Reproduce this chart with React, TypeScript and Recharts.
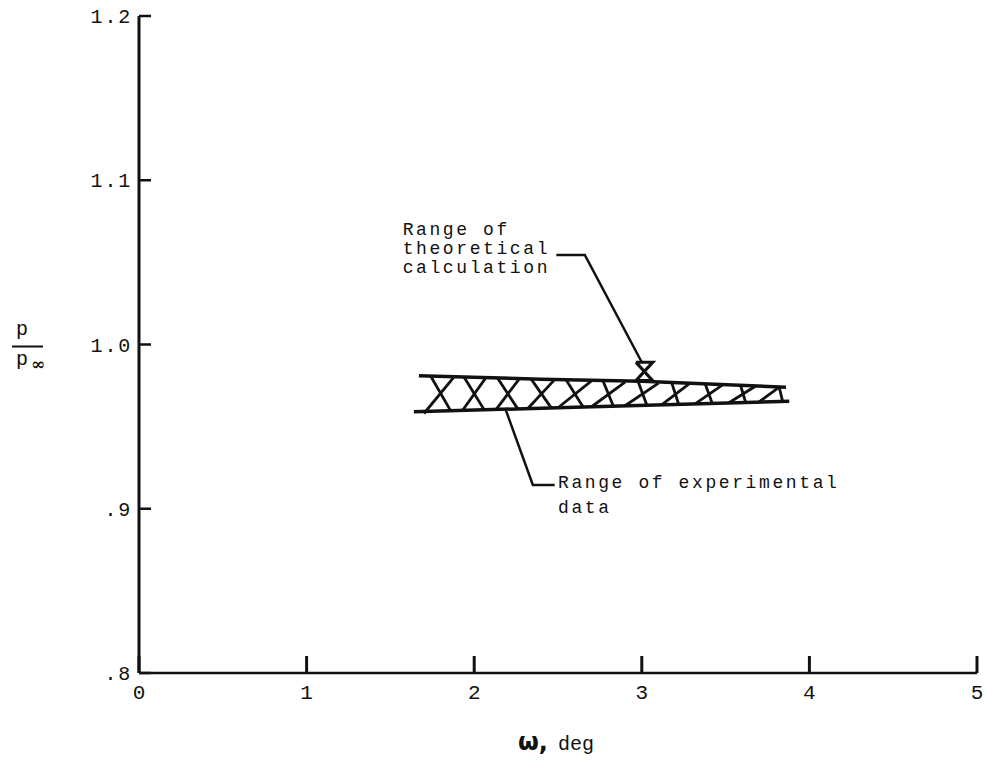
import { LineChart, Line, XAxis, YAxis, ReferenceDot } from "recharts";

const xTicks = [0, 1, 2, 3, 4, 5];
const yTicks = [0.8, 0.9, 1.0, 1.1, 1.2];
const yTickLabels: Record<string, string> = { "0.8": ".8", "0.9": ".9", "1": "1.0", "1.1": "1.1", "1.2": "1.2" };

// edges of the experimental band
const upperEdge = [
  { w: 1.67, p: 0.981 },
  { w: 2.4, p: 0.9789 },
  { w: 3.0, p: 0.9776 },
  { w: 3.86, p: 0.974 },
];
const lowerEdge = [
  { w: 1.64, p: 0.959 },
  { w: 2.6, p: 0.9618 },
  { w: 3.88, p: 0.9655 },
];

// hatching strokes [w1, p1, w2, p2]
const hatchBack = [
  [1.74, 0.9808, 1.86, 0.9596],
  [1.94, 0.9801, 2.06, 0.9602],
  [2.14, 0.9795, 2.26, 0.9608],
  [2.34, 0.9789, 2.46, 0.9614],
  [2.55, 0.9782, 2.65, 0.9619],
  [2.77, 0.9775, 2.83, 0.9625],
  [2.98, 0.9768, 3.03, 0.9631],
  [3.18, 0.9762, 3.22, 0.9636],
  [3.38, 0.9755, 3.42, 0.9642],
  [3.59, 0.9749, 3.62, 0.9647],
  [3.82, 0.974, 3.84, 0.9654],
];
const hatchFwd = [
  [1.7, 0.958, 1.88, 0.9803],
  [1.93, 0.9598, 2.07, 0.9798],
  [2.13, 0.9604, 2.27, 0.9792],
  [2.32, 0.961, 2.48, 0.9786],
  [2.5, 0.9615, 2.7, 0.9778],
  [2.7, 0.9621, 2.9, 0.9771],
  [2.9, 0.9627, 3.1, 0.9765],
  [3.12, 0.9634, 3.28, 0.9759],
  [3.32, 0.964, 3.48, 0.9753],
  [3.52, 0.9645, 3.68, 0.9747],
  [3.7, 0.965, 3.82, 0.9741],
];

// theoretical range marker (hourglass at w = 3)
const theoryMark = [
  { w: 2.965, p: 0.9892 },
  { w: 3.065, p: 0.9892 },
  { w: 2.965, p: 0.978 },
  { w: 3.065, p: 0.978 },
  { w: 2.965, p: 0.9892 },
];

const theoryLeader = [
  { w: 2.49, p: 1.0545 },
  { w: 2.66, p: 1.0545 },
  { w: 3.0, p: 0.9892 },
];
const expLeader = [
  { w: 2.19, p: 0.9597 },
  { w: 2.35, p: 0.9145 },
  { w: 2.48, p: 0.9145 },
];

const theoryText = ["Range of", "theoretical", "calculation"];
const expText = ["Range of experimental", "data"];

const FONT = "'Liberation Mono', 'DejaVu Sans Mono', monospace";
const INK = "#111";

const seg = (s: number[]) => [
  { w: s[0], p: s[1] },
  { w: s[2], p: s[3] },
];

const textBlock = (lines: string[], gap: number) => (props: any) => (
  <text x={props.cx} y={props.cy} fontFamily={FONT} fontSize={18} letterSpacing={2.6} fill={INK} dominantBaseline="central">
    {lines.map((t, i) => (
      <tspan key={i} x={props.cx} dy={i === 0 ? 0 : gap}>
        {t}
      </tspan>
    ))}
  </text>
);

const YLabel = (props: any) => {
  const vb = props.viewBox;
  const x = vb.x + 12;
  const y = vb.y + vb.height / 2;
  return (
    <g fontFamily={FONT} fill={INK}>
      <text x={x + 4} y={y - 10} fontSize={20}>p</text>
      <line x1={x} x2={x + 31} y1={y + 2} y2={y + 2} stroke={INK} strokeWidth={2} />
      <text x={x + 4} y={y + 20} fontSize={20}>p</text>
      <text x={x + 19} y={y + 25} fontSize={17} fontWeight="bold" fontFamily="'DejaVu Serif', serif">∞</text>
    </g>
  );
};

const XLabel = (props: any) => {
  const vb = props.viewBox;
  const cx = vb.x + vb.width / 2;
  return (
    <text x={cx - 40} y={vb.y + 77} fill={INK}>
      <tspan fontFamily="'DejaVu Sans', sans-serif" fontWeight="bold" fontSize={24}>ω,</tspan>
      <tspan fontFamily={FONT} fontSize={20} dx={10}>deg</tspan>
    </text>
  );
};

export default function App() {
  return (
    <div style={{ width: 987, height: 760, background: "#fff" }}>
      <style>{`body{margin:0}`}</style>
      <LineChart width={987} height={760} margin={{ top: 16, right: 10, left: 0, bottom: 0 }}>
        <XAxis
          dataKey="w"
          type="number"
          domain={[0, 5]}
          ticks={xTicks}
          height={87}
          tickSize={-17}
          tickMargin={28}
          axisLine={{ stroke: INK, strokeWidth: 2.5 }}
          tickLine={{ stroke: INK, strokeWidth: 3 }}
          tick={{ fill: INK, fontFamily: FONT, fontSize: 21 }}
          label={XLabel}
        />
        <YAxis
          type="number"
          domain={[0.8, 1.2]}
          ticks={yTicks}
          width={139}
          tickSize={-12}
          tickMargin={19}
          axisLine={{ stroke: INK, strokeWidth: 3 }}
          tickLine={{ stroke: INK, strokeWidth: 2.5 }}
          tick={{ fill: INK, fontFamily: FONT, fontSize: 20, letterSpacing: 1.8 }}
          tickFormatter={(v: number) => yTickLabels[String(v)] ?? String(v)}
          label={YLabel}
        />
        <Line data={upperEdge} dataKey="p" stroke={INK} strokeWidth={3.5} dot={false} isAnimationActive={false} />
        <Line data={lowerEdge} dataKey="p" stroke={INK} strokeWidth={3.5} dot={false} isAnimationActive={false} />
        {hatchBack.map((s, i) => (
          <Line key={"b" + i} data={seg(s)} dataKey="p" stroke={INK} strokeWidth={2.8} dot={false} isAnimationActive={false} />
        ))}
        {hatchFwd.map((s, i) => (
          <Line key={"f" + i} data={seg(s)} dataKey="p" stroke={INK} strokeWidth={2.8} dot={false} isAnimationActive={false} />
        ))}
        <Line data={theoryMark} dataKey="p" stroke={INK} strokeWidth={3.2} dot={false} isAnimationActive={false} />
        <Line data={theoryLeader} dataKey="p" stroke={INK} strokeWidth={2.5} dot={false} isAnimationActive={false} />
        <Line data={expLeader} dataKey="p" stroke={INK} strokeWidth={2.5} dot={false} isAnimationActive={false} />
        <ReferenceDot x={1.573} y={1.0695} r={0} shape={textBlock(theoryText, 19)} />
        <ReferenceDot x={2.5} y={0.9156} r={0} shape={textBlock(expText, 25)} />
      </LineChart>
    </div>
  );
}
